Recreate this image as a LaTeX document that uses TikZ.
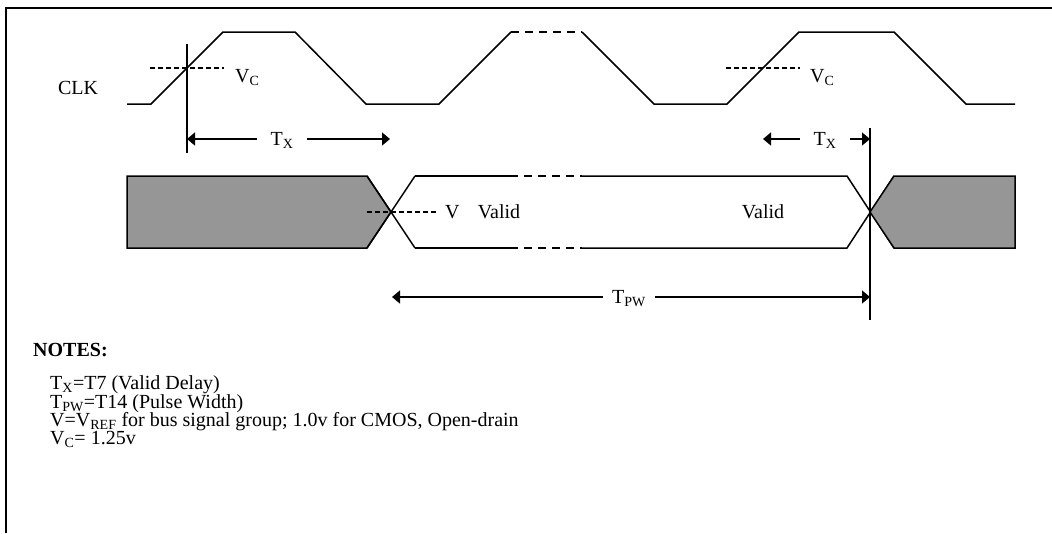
\documentclass[tikz,border=0pt]{standalone}
\usepackage{fontspec}
\setmainfont{Liberation Serif}
\usetikzlibrary{arrows.meta,positioning}
\definecolor{busgray}{gray}{0.59}

\begin{document}
\begin{tikzpicture}[x=1pt, y=-1pt,
    every node/.style={font=\fontsize{20}{20}\selectfont, inner sep=0pt},
    sig/.style={line width=1.5pt},
    vlevel/.style={line width=1.2pt, dash pattern=on 5pt off 3pt},
    gapline/.style={line width=1.5pt, dash pattern=on 8pt off 6pt},
    dimarrow/.style={line width=1.5pt, -{Triangle[length=8pt, width=13pt]}},
    dimlabel/.style={text height=13pt, text depth=0pt}]
\useasboundingbox (0,0) rectangle (1052,533);
\draw [line width=1.8pt] (6,533) -- (6,8) -- (1052,8);

% CLK
\node (clk) at (78,88) {CLK};
\draw [sig] (127,104) -- (151,104) -- (223,32) -- (295,32) -- (366,104) -- (439,104) -- (511,32);
\draw [gapline] (511,32) -- (582,32);
\draw [sig] (582,32) -- (654,104) -- (727,104) -- (799,32) -- (894,32) -- (966,104) -- (1015,104);
\draw [vlevel] (150,68) -- (224,68);
\node [anchor=base west] (vc1) at (235,82) {V\textsubscript{C}};
\draw [vlevel] (726,68) -- (800,68);
\node [anchor=base west] (vc2) at (810,82) {V\textsubscript{C}};

% data bus
\filldraw [sig, fill=busgray] (127,176) -- (367,176) -- (391,212) -- (367,248) -- (127,248) -- cycle;
\draw [sig] (367,176) -- (415,248);
\draw [sig] (367,248) -- (415,176);
\draw [sig] (415,176) -- (510,176);
\draw [sig] (415,248) -- (510,248);
\draw [gapline] (510,176) -- (582,176);
\draw [gapline] (510,248) -- (582,248);
\draw [sig] (582,176) -- (847,176) -- (894,248);
\draw [sig] (582,248) -- (847,248) -- (894,176);
\filldraw [sig, fill=busgray] (870,212) -- (894,176) -- (1015,176) -- (1015,248) -- (894,248) -- cycle;
\draw [vlevel] (367,212) -- (438,212);
\node [anchor=base west] (vlvl) at (445,218) {V};
\node [anchor=base] (valid1) at (499,218) {Valid};
\node [anchor=base] (valid2) at (763,218) {Valid};

% timing marks
\draw [sig] (187,44) -- (187,153);
\draw [sig] (870,128) -- (870,320);
\coordinate (txa) at (187,139);
\coordinate (txb) at (390,139);
\coordinate (txc) at (763,139);
\coordinate (txd) at (870,139);
\coordinate (pwa) at (392,297);
\coordinate (pwb) at (870,297);
\node [dimlabel, minimum width=49pt] (tx1) at (282,139) {T\textsubscript{X}};
\node [dimlabel, minimum width=50pt] (tx2) at (825,139) {T\textsubscript{X}};
\node [dimlabel, minimum width=52pt] (tpw) at (629,297) {T\textsubscript{PW}};
\draw [dimarrow] (tx1) -- (txa);
\draw [dimarrow] (tx1) -- (txb);
\draw [dimarrow] (tx2) -- (txc);
\draw [dimarrow] (tx2) -- (txd);
\draw [dimarrow] (tpw) -- (pwa);
\draw [dimarrow] (tpw) -- (pwb);

% notes
\node [anchor=base west, font=\fontsize{20}{20}\selectfont\bfseries] (notes) at (33,356) {NOTES:};
\node [anchor=base west] (n1) at (50,389) {T\textsubscript{X}=T7 (Valid Delay)};
\node [anchor=base west] (n2) at (50,408) {T\textsubscript{PW}=T14 (Pulse Width)};
\node [anchor=base west] (n3) at (50,426) {V=V\textsubscript{REF} for bus signal group; 1.0v for CMOS, Open-drain};
\node [anchor=base west] (n4) at (50,444) {V\textsubscript{C}= 1.25v};
\end{tikzpicture}
\end{document}
